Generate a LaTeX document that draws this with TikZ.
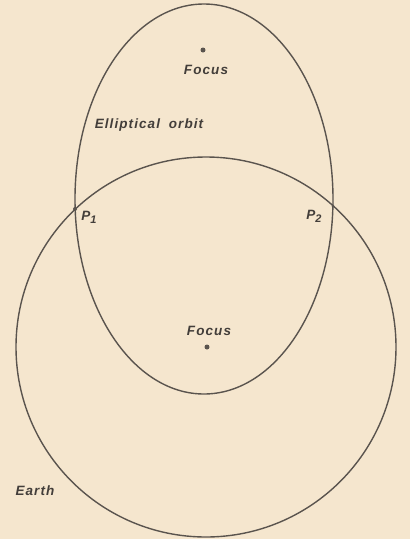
\documentclass[tikz,border=0pt]{standalone}
\usepackage{fontspec}
\setsansfont{Liberation Sans}[LetterSpace=8]
\usetikzlibrary{positioning}
\definecolor{Paper}{HTML}{F5E6CE}
\definecolor{Pencil}{HTML}{5A544E}
\definecolor{Ink}{HTML}{433E3A}

\begin{document}
\begin{tikzpicture}[x=1pt,y=-1pt,
  curve/.style={draw=Pencil,line width=1.4pt},
  dot/.style={circle,fill=Pencil,inner sep=0pt,minimum size=5pt},
  lbl/.style={font=\sffamily\itshape\bfseries\fontsize{13.5}{15}\selectfont,
    color=Ink,inner sep=1pt}
]
\fill[Paper] (0,0) rectangle (410,539);
\useasboundingbox (0,0) rectangle (410,539);

% Elliptical orbit and the Earth.
\draw[curve] (204,199) ellipse [x radius=129pt,y radius=195pt];
\draw[curve] (206,347) circle [radius=190pt];

% Foci and crossing points.
\node[dot] (ftop) at (203,50) {};
\node[dot] (fbot) at (207,347) {};
\node[dot,minimum size=4pt] (p1) at (75,209) {};
\node[dot,minimum size=3pt] (p2) at (333,206) {};

% Labels.
\node[lbl] (ftoplbl) at (206,70) {Focus};
\node[lbl] (fbotlbl) at (209,331) {Focus};
\node[lbl] (orbitlbl) at (149,125) {Elliptical\hspace{4pt} orbit};
\node[lbl] (p1lbl) at (89,217) {P\raisebox{-0.4ex}{\fontsize{11}{12}\selectfont 1}};
\node[lbl] (p2lbl) at (314,216) {P\raisebox{-0.4ex}{\fontsize{11}{12}\selectfont 2}};
\node[lbl] (earthlbl) at (35,491) {Earth};
\end{tikzpicture}
\end{document}
